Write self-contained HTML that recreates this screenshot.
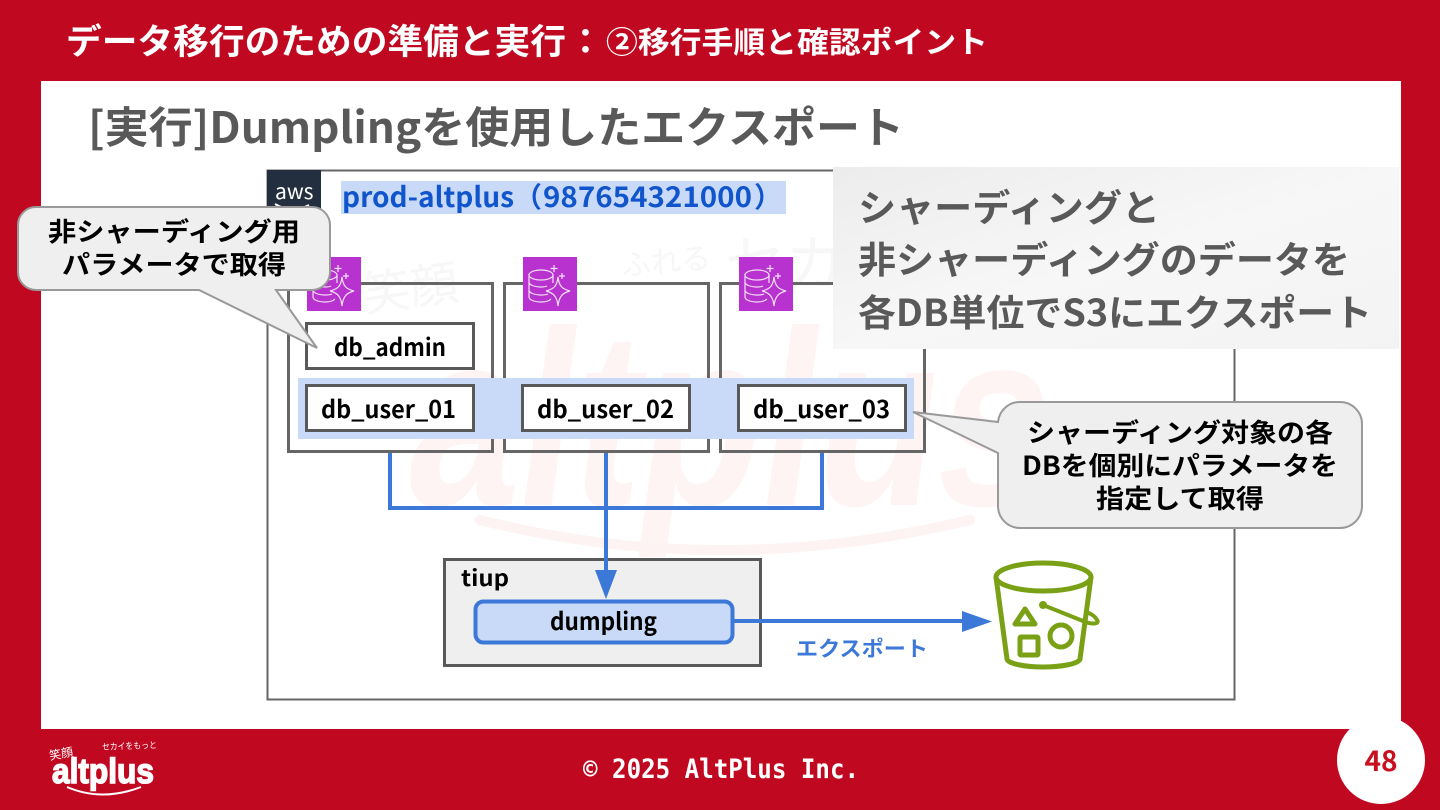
<!DOCTYPE html>
<html lang="ja"><head><meta charset="utf-8"><title>Dumpling</title>
<style>html,body{margin:0;padding:0;background:#c00a20}svg{display:block}text{font-family:"Noto Sans CJK JP","Liberation Sans",sans-serif;font-weight:700}</style></head>
<body>
<svg width="1440" height="810" viewBox="0 0 1440 810" xmlns="http://www.w3.org/2000/svg">
<rect width="1440" height="810" fill="#c00820"/>
<rect x="41" y="81" width="1360" height="648" fill="#fff"/>
<text x="66" y="54" font-size="35" fill="#fff" textLength="500" lengthAdjust="spacingAndGlyphs">データ移行のための準備と実行</text>
<text x="568" y="54" font-size="35" fill="#fff">：</text>
<text x="606" y="53" font-size="30" fill="#fff" textLength="382" lengthAdjust="spacingAndGlyphs">②移行手順と確認ポイント</text>
<text x="88" y="143" font-size="43" fill="#595959" textLength="816" lengthAdjust="spacingAndGlyphs">[実行]Dumplingを使用したエクスポート</text>

<!-- watermark -->
<g transform="translate(400 505) skewX(-8)">
<text x="0" y="0" style="font-family:'Liberation Sans',sans-serif;font-weight:700" font-size="250" fill="#fdf4f3" textLength="640" lengthAdjust="spacingAndGlyphs">altplus</text>
</g>
<path d="M480 520q240 60 490 0" fill="none" stroke="#fdf3f2" stroke-width="10" stroke-linecap="round"/>
<g fill="#f8f7f7" style="font-weight:400">
<text x="365" y="312" font-size="48" style="font-weight:400" transform="rotate(-8 365 312)">笑顔</text>
<text x="622" y="276" font-size="30" style="font-weight:400" transform="rotate(-5 622 276)">ふれる</text>
<text x="725" y="285" font-size="60" style="font-weight:400">セカ</text>
</g>

<!-- account -->
<rect x="267.500" y="170.500" width="967" height="529" fill="none" stroke="#666" stroke-width="2"/>
<rect x="267" y="170" width="54" height="54" fill="#232f3e"/>
<text x="275" y="199" font-size="21" fill="#fff" style="font-weight:400">aws</text>
<path d="M275 204q17 10 34 1" fill="none" stroke="#fff" stroke-width="2"/>
<rect x="341" y="181" width="445" height="33" fill="#c9daf8"/>
<g font-size="28" fill="#1155cc">
<text x="342" y="207" textLength="172" lengthAdjust="spacingAndGlyphs">prod-altplus</text>
<text x="514" y="207">（</text>
<text x="543" y="207" textLength="209" lengthAdjust="spacingAndGlyphs">987654321000</text>
<text x="754" y="207">）</text>
</g>

<!-- DB boxes -->
<g fill="none" stroke="#666" stroke-width="3">
<rect x="288.500" y="283.500" width="204" height="168"/>
<rect x="504.500" y="283.500" width="204" height="168"/>
<rect x="720.500" y="283.500" width="204" height="168"/>
</g>
<rect x="298" y="378" width="616" height="61" fill="#c9daf8"/>
<g fill="#fff" stroke="#595959" stroke-width="3">
<rect x="306.500" y="323.500" width="167" height="45"/>
<rect x="306.500" y="385.500" width="167" height="45"/>
<rect x="522.500" y="385.500" width="167" height="45"/>
<rect x="738.500" y="385.500" width="167" height="45"/>
</g>
<g font-size="24" fill="#000">
<text x="334" y="356" textLength="112" lengthAdjust="spacingAndGlyphs">db_admin</text>
<text x="321" y="418" textLength="135" lengthAdjust="spacingAndGlyphs">db_user_01</text>
<text x="537" y="418" textLength="137" lengthAdjust="spacingAndGlyphs">db_user_02</text>
<text x="753" y="418" textLength="137" lengthAdjust="spacingAndGlyphs">db_user_03</text>
</g>

<!-- RDS icons -->
<defs>
<g id="ic"><rect width="54" height="54" fill="#b832cf"/>
<g fill="none" stroke="#fff" stroke-width="1.200" opacity=".85">
<ellipse cx="18" cy="18" rx="12" ry="5"/><path d="M6 18v22c0 3 6 5 12 5 4 0 8-1 10-3M6 25c0 3 6 5 12 5 2 0 4 0 6-1M6 33c0 3 6 5 12 5 2 0 5 0 7-1M30 18v8"/>
<path d="M35 20c1 9 4 12 12 14c-8 2-11 6-12 15c-1-9-4-13-12-15c8-2 11-5 12-14Z"/>
<path d="M31 8v7M27.500 11.500h7M39 16v6M36 19h6"/></g></g>
</defs>
<use href="#ic" x="307" y="257"/>
<use href="#ic" x="523" y="257"/>
<use href="#ic" x="739" y="257"/>

<!-- tiup -->
<rect x="444.500" y="559.500" width="316" height="106" fill="#efefef" stroke="#595959" stroke-width="3"/>
<text x="461" y="586" font-size="22" fill="#000" textLength="48" lengthAdjust="spacingAndGlyphs">tiup</text>
<rect x="475.500" y="601.500" width="257" height="41" rx="8" fill="#c9daf8" stroke="#3c78d8" stroke-width="4"/>
<text x="550" y="630" font-size="24" fill="#000" textLength="107" lengthAdjust="spacingAndGlyphs">dumpling</text>
<text x="796" y="656" font-size="21" fill="#3c78d8" textLength="132" lengthAdjust="spacingAndGlyphs">エクスポート</text>

<!-- connectors -->
<g fill="none" stroke="#3c78d8" stroke-width="4">
<path d="M390 453V508H822V453"/>
<path d="M606 453V572"/>
<path d="M734 621H964"/>
</g>
<path d="M595 570h22l-11 29z" fill="#3c78d8"/>
<path d="M962 611l30 10.500l-30 10.500z" fill="#3c78d8"/>

<!-- bucket -->
<g fill="none" stroke="#7aa116" stroke-width="5" stroke-linejoin="round" stroke-linecap="round">
<ellipse cx="1043.500" cy="577" rx="47.500" ry="14"/>
<path d="M996 577l11 82c1 5 19 8 36 8s36-3 37-8l11-82"/>
<path d="M1025 609l-10 15h20z"/>
<rect x="1020" y="637" width="18" height="18" rx="1"/>
<circle cx="1061" cy="636" r="11"/>
<path d="M1043 605L1083 621C1092 625 1100 624 1097 620C1095 616 1090 613 1086 612" stroke-width="4"/>
</g>
<circle cx="1043" cy="605" r="4" fill="#7aa116"/>

<!-- callouts -->
<path d="M36 207H312a18 18 0 0 1 18 18V272a18 18 0 0 1-18 18H276L317 348 199 290H36a18 18 0 0 1-18-18V225a18 18 0 0 1 18-18Z" fill="#efefef" stroke="#999" stroke-width="2"/>
<g font-size="26" fill="#000" text-anchor="middle">
<text x="174" y="241" textLength="252" lengthAdjust="spacingAndGlyphs">非シャーディング用</text>
<text x="174" y="274" textLength="224" lengthAdjust="spacingAndGlyphs">パラメータで取得</text>
</g>
<path d="M1020 402H1340a22 22 0 0 1 22 22V506a22 22 0 0 1-22 22H1020a22 22 0 0 1-22-22V453L913 412 998 422a22 22 0 0 1 22-20Z" fill="#efefef" stroke="#999" stroke-width="2"/>
<g font-size="26" fill="#000" text-anchor="middle">
<text x="1180" y="442" textLength="306" lengthAdjust="spacingAndGlyphs">シャーディング対象の各</text>
<text x="1180" y="475" textLength="316" lengthAdjust="spacingAndGlyphs">DBを個別にパラメータを</text>
<text x="1180" y="508" textLength="168" lengthAdjust="spacingAndGlyphs">指定して取得</text>
</g>

<!-- overlay note -->
<defs><linearGradient id="g" x1="0" y1="0" x2="1" y2="1"><stop offset="0" stop-color="#ececec"/><stop offset=".5" stop-color="#f7f7f7"/><stop offset="1" stop-color="#f3f3f3"/></linearGradient></defs>
<rect x="833" y="167" width="566" height="182" fill="url(#g)"/>
<g font-size="37" fill="#595959">
<text x="858" y="221" textLength="302" lengthAdjust="spacingAndGlyphs">シャーディングと</text>
<text x="858" y="273" textLength="492" lengthAdjust="spacingAndGlyphs">非シャーディングのデータを</text>
<text x="858" y="326" textLength="514" lengthAdjust="spacingAndGlyphs">各DB単位でS3にエクスポート</text>
</g>

<!-- footer -->
<text x="583" y="778" style="font-family:'DejaVu Sans Mono','Liberation Mono',monospace;font-weight:700" font-size="27" fill="#fff" textLength="276" lengthAdjust="spacingAndGlyphs">© 2025 AltPlus Inc.</text>
<circle cx="1381" cy="760" r="44" fill="#fff"/>
<text x="1381" y="771" font-size="28" fill="#c8101e" text-anchor="middle">48</text>
<text x="50" y="760" font-size="12" fill="#fff" style="font-weight:400" transform="rotate(-10 50 760)">笑顔</text>
<text x="102" y="750" font-size="9" fill="#fff" style="font-weight:400" textLength="55" lengthAdjust="spacingAndGlyphs" transform="rotate(-2 102 750)">セカイをもっと</text>
<text x="52" y="783" style="font-family:'Liberation Sans',sans-serif;font-weight:700" font-size="35" fill="#fff" stroke="#fff" stroke-width="1.500" textLength="102" lengthAdjust="spacingAndGlyphs">altplus</text>
<path d="M67 787q35 15 74 0" fill="none" stroke="#fff" stroke-width="2"/>
</svg>
</body></html>
